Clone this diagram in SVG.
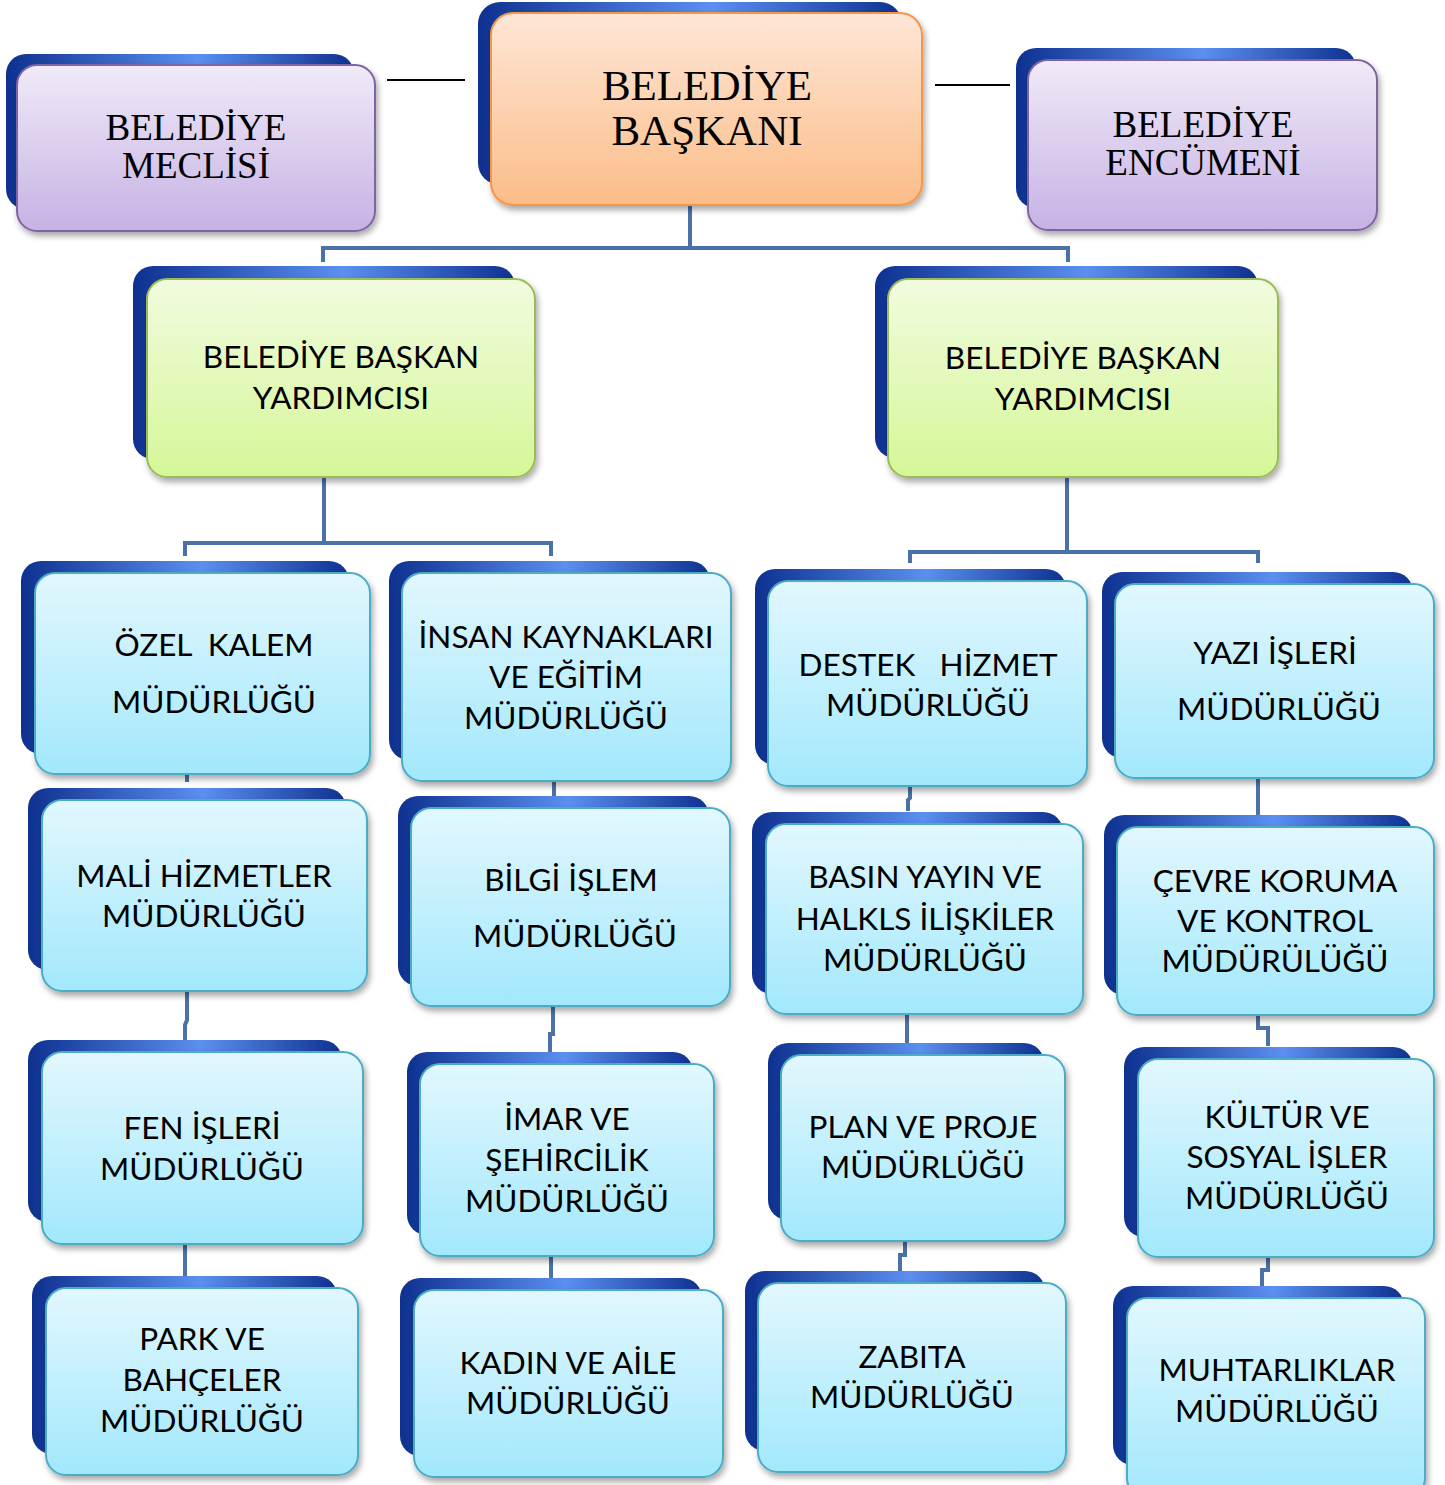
<svg xmlns="http://www.w3.org/2000/svg" width="1445" height="1485" viewBox="0 0 1445 1485">
<defs>
<linearGradient id="back" x1="0" y1="0" x2="1" y2="0">
<stop offset="0" stop-color="#0e3190"/><stop offset="0.55" stop-color="#5b8ff0"/><stop offset="1" stop-color="#0e3190"/>
</linearGradient>
<linearGradient id="blue" x1="0" y1="0" x2="0" y2="1">
<stop offset="0" stop-color="#e2f7fe"/><stop offset="1" stop-color="#a2e8fc"/>
</linearGradient>
<linearGradient id="green" x1="0" y1="0" x2="0" y2="1">
<stop offset="0" stop-color="#f1fbdf"/><stop offset="1" stop-color="#d5f797"/>
</linearGradient>
<linearGradient id="purple" x1="0" y1="0" x2="0" y2="1">
<stop offset="0" stop-color="#f0eaf8"/><stop offset="1" stop-color="#c6b2e4"/>
</linearGradient>
<linearGradient id="orange" x1="0" y1="0" x2="0" y2="1">
<stop offset="0" stop-color="#fee6d6"/><stop offset="1" stop-color="#fbbd88"/>
</linearGradient>
<filter id="sh" x="-10%" y="-10%" width="125%" height="125%">
<feDropShadow dx="2" dy="4" stdDeviation="3" flood-color="#000" flood-opacity="0.35"/>
</filter>
</defs>
<style>
.bk{fill:url(#back)}
.fb{fill:url(#blue);stroke:#4bacc6;stroke-width:2;filter:url(#sh)}
.fg{fill:url(#green);stroke:#9bbb59;stroke-width:2;filter:url(#sh)}
.fp{fill:url(#purple);stroke:#8064a2;stroke-width:2;filter:url(#sh)}
.fo{fill:url(#orange);stroke:#f79646;stroke-width:2;filter:url(#sh)}
.t{font-family:Lato,"Open Sans","DejaVu Sans",sans-serif;font-size:31.5px;fill:#000;text-anchor:middle}
.s{font-family:"Liberation Serif","Times New Roman",serif;fill:#000;text-anchor:middle}
.c{fill:none;stroke:#4a72a6;stroke-width:4}
.k{fill:none;stroke:#000;stroke-width:2}
</style>

<g id="connectors">
<line class="k" x1="387" y1="80" x2="465" y2="80"/>
<line class="k" x1="935" y1="85" x2="1010" y2="85"/>
<path class="c" d="M690 205V248M323 262V248H1068V262"/>
<path class="c" d="M324 477V543M185 556V543H551V556"/>
<path class="c" d="M1067 477V552M910 563V552H1258V563"/>
<path class="c" d="M187 774V782M187 991V1020L185 1025V1040M185 1244V1276"/>
<path class="c" d="M554 781V796M553 1006V1034H550V1052M551 1256V1278"/>
<path class="c" d="M910 786V798L908 800V811M907 1014V1043M905 1241V1255H900V1271"/>
<path class="c" d="M1258 778V815M1258 1015V1028H1268V1046M1268 1257V1270H1262V1286"/>
</g>

<g id="n-meclis">
<rect class="bk" x="6" y="54" width="348" height="155" rx="20"/>
<rect class="fp" x="17" y="65" width="358" height="166" rx="20"/>
<text class="s" font-size="37" x="196" y="140">BELEDİYE</text>
<text class="s" font-size="37" x="196" y="178">MECLİSİ</text>
</g>
<g id="n-baskan">
<rect class="bk" x="478" y="2" width="424" height="183" rx="22"/>
<rect class="fo" x="491" y="13" width="431" height="192" rx="22"/>
<text class="s" font-size="43" x="707" y="100">BELEDİYE</text>
<text class="s" font-size="43" x="707" y="145">BAŞKANI</text>
</g>
<g id="n-encumen">
<rect class="bk" x="1016" y="48" width="340" height="160" rx="20"/>
<rect class="fp" x="1028" y="60" width="349" height="170" rx="20"/>
<text class="s" font-size="37" x="1203" y="137">BELEDİYE</text>
<text class="s" font-size="37" x="1203" y="175">ENCÜMENİ</text>
</g>

<g id="n-yrd1">
<rect class="bk" x="133" y="266" width="382" height="193" rx="20"/>
<rect class="fg" x="147" y="279" width="388" height="198" rx="20"/>
<text class="t" x="341" y="368">BELEDİYE BAŞKAN</text>
<text class="t" x="341" y="409">YARDIMCISI</text>
</g>
<g id="n-yrd2">
<rect class="bk" x="875" y="266" width="383" height="192" rx="20"/>
<rect class="fg" x="888" y="279" width="390" height="198" rx="20"/>
<text class="t" x="1083" y="369">BELEDİYE BAŞKAN</text>
<text class="t" x="1083" y="410">YARDIMCISI</text>
</g>

<g id="n-ozel">
<rect class="bk" x="21" y="561" width="328" height="193" rx="20"/>
<rect class="fb" x="35" y="573" width="335" height="201" rx="20"/>
<text class="t" x="214" y="656" xml:space="preserve">ÖZEL  KALEM</text>
<text class="t" x="214" y="713">MÜDÜRLÜĞÜ</text>
</g>
<g id="n-insan">
<rect class="bk" x="389" y="561" width="321" height="199" rx="20"/>
<rect class="fb" x="402" y="573" width="329" height="208" rx="20"/>
<text class="t" x="566" y="648">İNSAN KAYNAKLARI</text>
<text class="t" x="566" y="688">VE EĞİTİM</text>
<text class="t" x="566" y="729">MÜDÜRLÜĞÜ</text>
</g>
<g id="n-destek">
<rect class="bk" x="755" y="569" width="311" height="196" rx="20"/>
<rect class="fb" x="768" y="581" width="319" height="205" rx="20"/>
<text class="t" x="928" y="676" xml:space="preserve">DESTEK   HİZMET</text>
<text class="t" x="928" y="716">MÜDÜRLÜĞÜ</text>
</g>
<g id="n-yazi">
<rect class="bk" x="1102" y="572" width="311" height="186" rx="20"/>
<rect class="fb" x="1115" y="584" width="319" height="194" rx="20"/>
<text class="t" x="1275" y="664">YAZI İŞLERİ</text>
<text class="t" x="1279" y="720">MÜDÜRLÜĞÜ</text>
</g>

<g id="n-mali">
<rect class="bk" x="28" y="788" width="318" height="182" rx="20"/>
<rect class="fb" x="42" y="800" width="325" height="191" rx="20"/>
<text class="t" x="204" y="887">MALİ HİZMETLER</text>
<text class="t" x="204" y="927">MÜDÜRLÜĞÜ</text>
</g>
<g id="n-bilgi">
<rect class="bk" x="398" y="796" width="311" height="190" rx="20"/>
<rect class="fb" x="411" y="808" width="319" height="198" rx="20"/>
<text class="t" x="571" y="891">BİLGİ İŞLEM</text>
<text class="t" x="575" y="947">MÜDÜRLÜĞÜ</text>
</g>
<g id="n-basin">
<rect class="bk" x="752" y="812" width="311" height="182" rx="20"/>
<rect class="fb" x="766" y="824" width="317" height="190" rx="20"/>
<text class="t" x="925" y="888">BASIN YAYIN VE</text>
<text class="t" x="925" y="930">HALKLS İLİŞKİLER</text>
<text class="t" x="925" y="971">MÜDÜRLÜĞÜ</text>
</g>
<g id="n-cevre">
<rect class="bk" x="1104" y="815" width="309" height="180" rx="20"/>
<rect class="fb" x="1117" y="827" width="317" height="188" rx="20"/>
<text class="t" x="1275" y="892">ÇEVRE KORUMA</text>
<text class="t" x="1275" y="932">VE KONTROL</text>
<text class="t" x="1275" y="972">MÜDÜRÜLÜĞÜ</text>
</g>

<g id="n-fen">
<rect class="bk" x="28" y="1040" width="314" height="182" rx="20"/>
<rect class="fb" x="42" y="1052" width="321" height="192" rx="20"/>
<text class="t" x="202" y="1139">FEN İŞLERİ</text>
<text class="t" x="202" y="1180">MÜDÜRLÜĞÜ</text>
</g>
<g id="n-imar">
<rect class="bk" x="407" y="1052" width="286" height="183" rx="20"/>
<rect class="fb" x="420" y="1064" width="294" height="192" rx="20"/>
<text class="t" x="567" y="1130">İMAR VE</text>
<text class="t" x="567" y="1171">ŞEHİRCİLİK</text>
<text class="t" x="567" y="1212">MÜDÜRLÜĞÜ</text>
</g>
<g id="n-plan">
<rect class="bk" x="768" y="1043" width="276" height="177" rx="20"/>
<rect class="fb" x="781" y="1055" width="284" height="186" rx="20"/>
<text class="t" x="923" y="1138">PLAN VE PROJE</text>
<text class="t" x="923" y="1178">MÜDÜRLÜĞÜ</text>
</g>
<g id="n-kultur">
<rect class="bk" x="1124" y="1047" width="289" height="190" rx="20"/>
<rect class="fb" x="1138" y="1059" width="296" height="198" rx="20"/>
<text class="t" x="1287" y="1128">KÜLTÜR VE</text>
<text class="t" x="1287" y="1168">SOSYAL İŞLER</text>
<text class="t" x="1287" y="1209">MÜDÜRLÜĞÜ</text>
</g>

<g id="n-park">
<rect class="bk" x="32" y="1276" width="305" height="178" rx="20"/>
<rect class="fb" x="46" y="1288" width="312" height="187" rx="20"/>
<text class="t" x="202" y="1350">PARK VE</text>
<text class="t" x="202" y="1391">BAHÇELER</text>
<text class="t" x="202" y="1432">MÜDÜRLÜĞÜ</text>
</g>
<g id="n-kadin">
<rect class="bk" x="400" y="1278" width="302" height="178" rx="20"/>
<rect class="fb" x="414" y="1290" width="309" height="187" rx="20"/>
<text class="t" x="568" y="1374">KADIN VE AİLE</text>
<text class="t" x="568" y="1414">MÜDÜRLÜĞÜ</text>
</g>
<g id="n-zabita">
<rect class="bk" x="745" y="1271" width="300" height="180" rx="20"/>
<rect class="fb" x="758" y="1283" width="308" height="189" rx="20"/>
<text class="t" x="912" y="1368">ZABITA</text>
<text class="t" x="912" y="1408">MÜDÜRLÜĞÜ</text>
</g>
<g id="n-muhtar">
<rect class="bk" x="1113" y="1286" width="291" height="179" rx="20"/>
<rect class="fb" x="1127" y="1298" width="298" height="200" rx="20"/>
<text class="t" x="1277" y="1381">MUHTARLIKLAR</text>
<text class="t" x="1277" y="1422">MÜDÜRLÜĞÜ</text>
</g>
</svg>
